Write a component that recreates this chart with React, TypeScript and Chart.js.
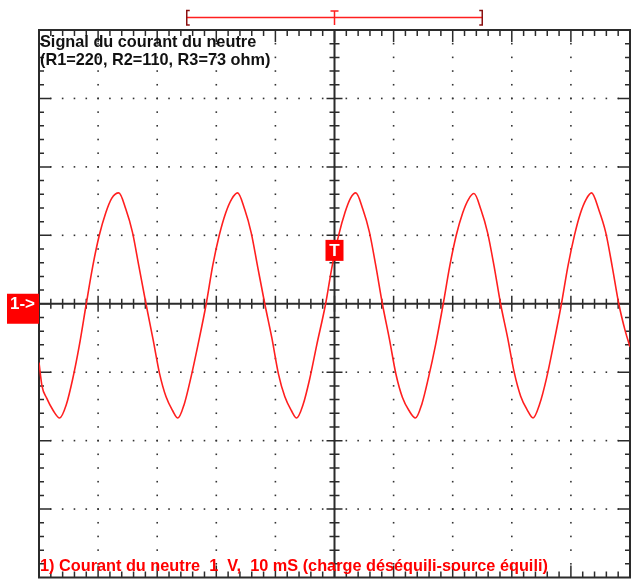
import React, { useEffect, useRef } from "react";
import { Chart, registerables } from "chart.js";

Chart.register(...registerables);

// ---- Data (time in ms, current signal in V) ----
const timeMs = [
  0.0, 0.5, 1.3, 2.4, 3.5, 4.6, 5.7, 6.8, 8.0,
  9.1, 10.2, 11.3, 12.3, 13.5, 14.7, 15.8, 16.9, 18.1,
  19.3, 20.4, 21.5, 22.6, 23.5, 24.6, 25.7, 26.9, 28.3,
  29.4, 30.5, 31.6, 32.6, 33.6, 34.8, 35.9, 37.0, 38.2,
  39.4, 40.5, 41.6, 42.7, 43.6, 44.7, 45.8, 47.0, 48.5,
  49.6, 50.7, 51.8, 52.7, 53.6, 54.8, 55.9, 57.0, 58.1,
  59.3, 60.4, 61.5, 62.6, 63.7, 64.8, 65.9, 67.1, 68.4,
  69.5, 70.6, 71.7, 72.7, 73.6, 74.8, 75.9, 77.0, 78.1,
  79.3, 80.4, 81.5, 82.6, 83.6, 84.7, 85.9, 87.1, 88.4,
  89.5, 90.6, 91.6, 92.6, 93.5, 94.7, 95.9, 97.0, 98.1,
  99.2, 100.0,
];
const currentV = [
  -0.86, -1.2, -1.38, -1.56, -1.67, -1.48, -1.1, -0.62, 0.0,
  0.55, 1.0, 1.33, 1.54, 1.62, 1.38, 1.05, 0.55, 0.0,
  -0.52, -1.02, -1.36, -1.56, -1.67, -1.46, -1.08, -0.6, 0.0,
  0.56, 1.0, 1.33, 1.53, 1.62, 1.38, 1.04, 0.54, 0.0,
  -0.5, -1.02, -1.36, -1.56, -1.67, -1.47, -1.1, -0.6, 0.0,
  0.55, 1.0, 1.34, 1.54, 1.62, 1.38, 1.05, 0.55, 0.0,
  -0.52, -1.03, -1.37, -1.56, -1.67, -1.46, -1.08, -0.6, 0.0,
  0.55, 1.0, 1.33, 1.53, 1.61, 1.37, 1.04, 0.55, 0.0,
  -0.5, -1.0, -1.35, -1.55, -1.67, -1.47, -1.08, -0.58, 0.0,
  0.55, 1.0, 1.32, 1.53, 1.62, 1.38, 1.04, 0.54, 0.0,
  -0.4, -0.63,
];

// Screen graticule: 10 horizontal divisions of 10 ms, 8 vertical divisions of 1 V
const xMajorMs = [0, 10, 20, 30, 40, 50, 60, 70, 80, 90, 100];
const yMajorV = [-4, -3, -2, -1, 0, 1, 2, 3, 4];
const minorPerDiv = 5;

const titleLines = ["Signal du courant du neutre", "(R1=220, R2=110, R3=73 ohm)"];
const footerText = "1) Courant du neutre  1  V,  10 mS (charge déséquili-source équili)";
const channelLabel = "1->";
const triggerLabel = "T";
const windowStartMs = 25;
const windowEndMs = 75;
const triggerTimeMs = 50;
const triggerLevelV = 0.78;

const AXIS = "#2b2b2b";
const RED = "#ff1f1f";
const FONT = "'Liberation Sans', Arial, sans-serif";

const scopePlugin = {
  id: "scopeScreen",
  beforeDatasetsDraw(chart: any) {
    const { ctx, chartArea: a, scales } = chart;
    const x = scales.x;
    const y = scales.y;
    const xMin = xMajorMs[0];
    const xMax = xMajorMs[xMajorMs.length - 1];
    const yMin = yMajorV[0];
    const yMax = yMajorV[yMajorV.length - 1];
    const xStep = (xMajorMs[1] - xMajorMs[0]) / minorPerDiv;
    const yStep = (yMajorV[1] - yMajorV[0]) / minorPerDiv;
    const xMinors: number[] = [];
    for (let v = xMin; v <= xMax + 1e-9; v += xStep) xMinors.push(v);
    const yMinors: number[] = [];
    for (let v = yMin; v <= yMax + 1e-9; v += yStep) yMinors.push(v);

    ctx.save();
    // dotted graticule
    ctx.fillStyle = "#333";
    const d = 1.6;
    for (const xv of xMajorMs) {
      if (xv === xMin || xv === xMax || xv === triggerTimeMs) continue;
      const px = x.getPixelForValue(xv);
      for (const yv of yMinors) {
        if (Math.abs(yv - yMin) < 1e-6 || Math.abs(yv - yMax) < 1e-6) continue;
        const py = y.getPixelForValue(yv);
        ctx.fillRect(px - d / 2, py - d / 2, d, d);
      }
    }
    for (const yv of yMajorV) {
      if (yv === yMin || yv === yMax || yv === 0) continue;
      const py = y.getPixelForValue(yv);
      for (const xv of xMinors) {
        if (Math.abs(xv - xMin) < 1e-6 || Math.abs(xv - xMax) < 1e-6) continue;
        const px = x.getPixelForValue(xv);
        ctx.fillRect(px - d / 2, py - d / 2, d, d);
      }
    }

    ctx.strokeStyle = AXIS;
    // centre axes
    const cx = x.getPixelForValue(triggerTimeMs);
    const cy = y.getPixelForValue(0);
    ctx.lineWidth = 2;
    ctx.beginPath();
    ctx.moveTo(a.left, cy);
    ctx.lineTo(a.right, cy);
    ctx.moveTo(cx, a.top);
    ctx.lineTo(cx, a.bottom);
    ctx.stroke();

    ctx.lineWidth = 1.5;
    ctx.beginPath();
    xMinors.forEach((xv, i) => {
      if (i === 0 || i === xMinors.length - 1) return;
      const px = x.getPixelForValue(xv);
      const major = i % minorPerDiv === 0;
      const len = major ? 8 : 5;
      ctx.moveTo(px, cy - len);
      ctx.lineTo(px, cy + len);
      // top and bottom border ticks (inward)
      const bl = major ? 12 : 6;
      ctx.moveTo(px, a.top);
      ctx.lineTo(px, a.top + bl);
      ctx.moveTo(px, a.bottom);
      ctx.lineTo(px, a.bottom - bl);
    });
    yMinors.forEach((yv, i) => {
      if (i === 0 || i === yMinors.length - 1) return;
      const py = y.getPixelForValue(yv);
      const major = i % minorPerDiv === 0;
      const len = major ? 8 : 5;
      ctx.moveTo(cx - len, py);
      ctx.lineTo(cx + len, py);
      const bl = major ? 12 : 5;
      ctx.moveTo(a.left, py);
      ctx.lineTo(a.left + bl, py);
      ctx.moveTo(a.right, py);
      ctx.lineTo(a.right - bl, py);
    });
    ctx.stroke();

    // screen border
    ctx.lineWidth = 2;
    ctx.strokeRect(a.left, a.top, a.right - a.left, a.bottom - a.top);
    ctx.restore();
  },
  afterDatasetsDraw(chart: any) {
    const { ctx, chartArea: a, scales } = chart;
    const x = scales.x;
    const y = scales.y;
    ctx.save();

    // trigger marker
    const tx = x.getPixelForValue(triggerTimeMs);
    const ty = y.getPixelForValue(triggerLevelV);
    ctx.fillStyle = "#ff0000";
    ctx.fillRect(tx - 9, ty - 10.5, 18, 21);
    ctx.fillStyle = "#ffffff";
    ctx.font = `bold 17px ${FONT}`;
    ctx.textAlign = "center";
    ctx.textBaseline = "middle";
    ctx.fillText(triggerLabel, tx, ty + 1);

    // channel 1 ground marker
    const gy = y.getPixelForValue(0);
    ctx.fillStyle = "#ff0000";
    ctx.fillRect(7, gy - 10, a.left - 7, 30);
    ctx.fillStyle = "#ffffff";
    ctx.font = `bold 17px ${FONT}`;
    ctx.textAlign = "left";
    ctx.textBaseline = "middle";
    ctx.fillText(channelLabel, 10, gy + 1);

    // memory window bracket above screen
    const x1 = x.getPixelForValue(windowStartMs);
    const x2 = x.getPixelForValue(windowEndMs);
    const by = 17.5;
    ctx.strokeStyle = RED;
    ctx.lineWidth = 1.5;
    ctx.beginPath();
    ctx.moveTo(x1, by);
    ctx.lineTo(x2, by);
    ctx.moveTo(tx, 11);
    ctx.lineTo(tx, 25);
    ctx.moveTo(tx - 4, 11);
    ctx.lineTo(tx + 4, 11);
    ctx.stroke();
    ctx.strokeStyle = "#8a1010";
    ctx.lineWidth = 1.5;
    ctx.beginPath();
    ctx.moveTo(x1 + 3, 10.5);
    ctx.lineTo(x1, 10.5);
    ctx.lineTo(x1, 25);
    ctx.lineTo(x1 + 3, 25);
    ctx.moveTo(x2 - 3, 10.5);
    ctx.lineTo(x2, 10.5);
    ctx.lineTo(x2, 25);
    ctx.lineTo(x2 - 3, 25);
    ctx.stroke();

    // titles
    ctx.textAlign = "left";
    ctx.textBaseline = "alphabetic";
    ctx.font = `bold 16.3px ${FONT}`;
    ctx.fillStyle = "#111111";
    ctx.fillText(titleLines[0], a.left + 1, 47);
    ctx.fillText(titleLines[1], a.left + 1, 65);
    ctx.fillStyle = "#ff0000";
    ctx.fillText(footerText, a.left + 1, 571);
    ctx.restore();
  },
};

export default function App() {
  const canvasRef = useRef<HTMLCanvasElement | null>(null);

  useEffect(() => {
    const canvas = canvasRef.current;
    if (!canvas) return;
    const points = timeMs.map((t, i) => ({ x: t, y: currentV[i] }));
    const chart = new Chart(canvas, {
      type: "line",
      data: {
        datasets: [
          {
            label: "Courant du neutre",
            data: points,
            borderColor: RED,
            borderWidth: 1.6,
            pointRadius: 0,
            cubicInterpolationMode: "monotone",
            fill: false,
          },
        ],
      },
      options: {
        animation: false,
        responsive: false,
        maintainAspectRatio: false,
        devicePixelRatio: 1,
        layout: { padding: { left: 39, top: 30, right: 1, bottom: 1.5 } },
        scales: {
          x: { type: "linear", min: xMajorMs[0], max: xMajorMs[xMajorMs.length - 1], display: false },
          y: { type: "linear", min: yMajorV[0], max: yMajorV[yMajorV.length - 1], display: false },
        },
        plugins: {
          legend: { display: false },
          tooltip: { enabled: false },
          title: { display: false },
        },
      },
      plugins: [scopePlugin],
    } as any);
    return () => chart.destroy();
  }, []);

  return (
    <div style={{ position: "absolute", left: 0, top: 0, width: 631, height: 579, background: "#ffffff" }}>
      <canvas ref={canvasRef} width={631} height={579} style={{ display: "block", width: 631, height: 579 }} />
    </div>
  );
}
